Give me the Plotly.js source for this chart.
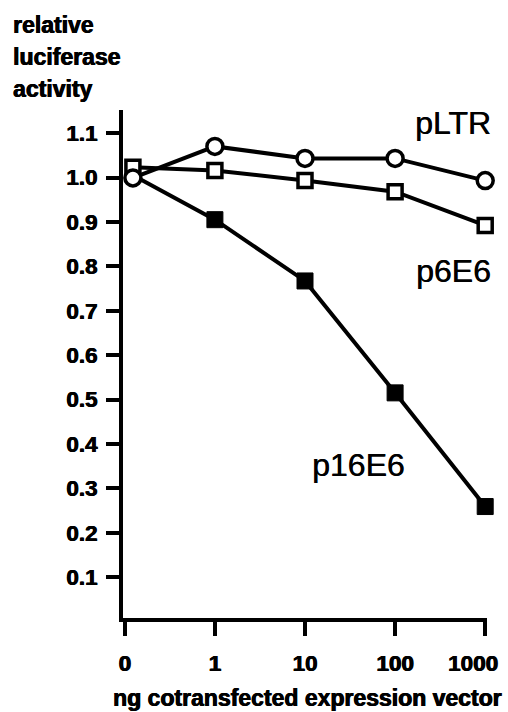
<!DOCTYPE html>
<html>
<head>
<meta charset="utf-8">
<script src="https://cdn.plot.ly/plotly-3.0.1.min.js"></script>
<style>html,body{margin:0;padding:0;background:#fff;}#chart{width:508px;height:712px;}</style>
</head>
<body>
<div id="chart"></div>
<script>
// Data
var doseLabels = ['0', '1', '10', '100', '1000'];
var dosePos = [0.09, 1, 2, 3, 4];
var pLTR = [0.999, 1.07, 1.043, 1.043, 0.993];
var p6E6 = [1.023, 1.016, 0.993, 0.968, 0.892];
var p16E6 = [1.005, 0.905, 0.767, 0.515, 0.259];
var yTicks = [0.1, 0.2, 0.3, 0.4, 0.5, 0.6, 0.7, 0.8, 0.9, 1.0, 1.1];
var seriesNames = ['pLTR', 'p6E6', 'p16E6'];

var W = 508, H = 712;
var ml = 123, mr = 21, mt = 110, mb = 94;
var pw = W - ml - mr, ph = H - mt - mb;
function px(x) { return (x - ml) / pw; }
function py(y) { return (H - mb - y) / ph; }

var FONT = 'Liberation Sans, Arial, Helvetica, sans-serif';
var HEAVY = '0.6px 0 0 #000, -0.3px 0 0 #000';

var traces = [
  {
    x: dosePos, y: p16E6, name: seriesNames[2], mode: 'lines+markers',
    line: {color: 'rgb(0,0,0)', width: 4},
    marker: {symbol: 'square', color: 'rgb(0,0,0)', opacity: 1, size: [0, 16, 16, 16, 16], line: {color: 'rgb(0,0,0)', width: 1}},
    cliponaxis: false
  },
  {
    x: dosePos, y: p6E6, name: seriesNames[1], mode: 'lines+markers',
    line: {color: 'rgb(0,0,0)', width: 4},
    marker: {symbol: 'square', color: '#fff', opacity: 1, size: 14, line: {color: 'rgb(0,0,0)', width: 3.5}},
    cliponaxis: false
  },
  {
    x: dosePos, y: pLTR, name: seriesNames[0], mode: 'lines+markers',
    line: {color: 'rgb(0,0,0)', width: 4},
    marker: {symbol: 'circle', color: '#fff', opacity: 1, size: 16, line: {color: 'rgb(0,0,0)', width: 3.5}},
    cliponaxis: false
  }
];

var boldTick = {family: FONT, size: 22.5, color: '#000', weight: 'bold', shadow: HEAVY};
var nTicks = doseLabels.length;
// the last label is drawn a little left of its tick (as in the reference) so it stays inside the page
var xTickText = doseLabels.map(function (t, i) { return i === nTicks - 1 ? '' : t; });

var layout = {
  width: W, height: H,
  margin: {l: ml, r: mr, t: mt, b: mb, pad: 0},
  paper_bgcolor: '#fff', plot_bgcolor: '#fff',
  showlegend: false,
  xaxis: {
    range: [-0.02, 4.02],
    tickvals: [0, 1, 2, 3, 4], ticktext: xTickText,
    showline: true, linecolor: '#000', linewidth: 4,
    ticks: 'outside', ticklen: 14, tickwidth: 4, tickcolor: '#000',
    ticklabelstandoff: 8,
    showgrid: false, zeroline: false,
    tickfont: boldTick
  },
  yaxis: {
    range: [0.008, 1.152],
    tickvals: yTicks, ticktext: yTicks.map(function (v) { return v.toFixed(1); }),
    showline: true, linecolor: '#000', linewidth: 4,
    ticks: 'outside', ticklen: 13, tickwidth: 4, tickcolor: '#000',
    ticklabelstandoff: 4,
    showgrid: false, zeroline: false,
    tickfont: boldTick
  },
  annotations: [
    {text: doseLabels[nTicks - 1], xref: 'paper', yref: 'paper', x: px(500), y: py(663), xanchor: 'right', yanchor: 'middle', showarrow: false, font: boldTick},
    {text: 'relative', xref: 'paper', yref: 'paper', x: px(11), y: py(25), xanchor: 'left', yanchor: 'middle', showarrow: false, font: {family: FONT, size: 23, color: '#000', weight: 'bold', shadow: HEAVY}},
    {text: 'luciferase', xref: 'paper', yref: 'paper', x: px(11), y: py(57), xanchor: 'left', yanchor: 'middle', showarrow: false, font: {family: FONT, size: 23, color: '#000', weight: 'bold', shadow: HEAVY}},
    {text: 'activity', xref: 'paper', yref: 'paper', x: px(11), y: py(89), xanchor: 'left', yanchor: 'middle', showarrow: false, font: {family: FONT, size: 23, color: '#000', weight: 'bold', shadow: HEAVY}},
    {text: 'ng cotransfected expression vector', xref: 'paper', yref: 'paper', x: px(307), y: py(698), xanchor: 'center', yanchor: 'middle', showarrow: false, font: {family: FONT, size: 23, color: '#000', weight: 'bold', shadow: HEAVY}},
    {text: seriesNames[0], xref: 'x', yref: 'y', x: 3.64, y: 1.122, xanchor: 'center', yanchor: 'middle', showarrow: false, font: {family: FONT, size: 32, color: '#000', shadow: '0.5px 0 0 #000'}},
    {text: seriesNames[1], xref: 'x', yref: 'y', x: 3.65, y: 0.789, xanchor: 'center', yanchor: 'middle', showarrow: false, font: {family: FONT, size: 32, color: '#000', shadow: '0.5px 0 0 #000'}},
    {text: seriesNames[2], xref: 'x', yref: 'y', x: 2.59, y: 0.352, xanchor: 'center', yanchor: 'middle', showarrow: false, font: {family: FONT, size: 32, color: '#000', shadow: '0.5px 0 0 #000'}}
  ]
};

Plotly.newPlot('chart', traces, layout, {staticPlot: true, displayModeBar: false});
</script>
</body>
</html>
